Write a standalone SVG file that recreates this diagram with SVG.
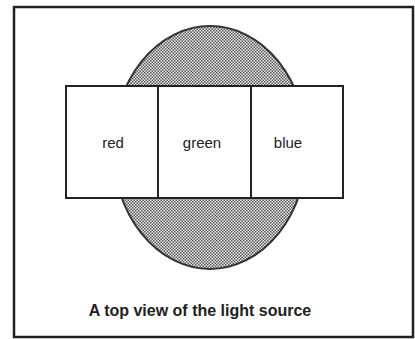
<svg xmlns="http://www.w3.org/2000/svg" width="415" height="339" viewBox="0 0 415 339">
<defs>
<pattern id="dots" width="3" height="3" patternUnits="userSpaceOnUse">
<rect width="3" height="3" fill="#ececec"/>
<rect x="0" y="0" width="1.5" height="1.5" fill="#555"/>
<rect x="1.5" y="1.5" width="1.5" height="1.5" fill="#555"/>
</pattern>
</defs>
<style>
.box{fill:#fff;stroke:#222;stroke-width:2}
.lbl{font-family:"Liberation Sans",Arial,sans-serif;font-size:15px;fill:#222;text-anchor:middle}
.cap{font-family:"Liberation Sans",Arial,sans-serif;font-size:16px;font-weight:bold;fill:#222;text-anchor:middle}
</style>
<rect width="415" height="339" fill="#fff"/>
<rect id="frame" x="14" y="7" width="399" height="330" fill="#fff" stroke="#222" stroke-width="2.5"/>
<g id="source">
<ellipse cx="210" cy="147.5" rx="97" ry="121.5" fill="url(#dots)" stroke="#333" stroke-width="2"/>
</g>
<g id="connectors"></g>
<g id="red">
<rect class="box" x="66" y="86" width="92" height="112"/>
<text class="lbl" x="113" y="148">red</text>
</g>
<g id="green">
<rect class="box" x="158" y="86" width="93" height="112"/>
<text class="lbl" x="202" y="148">green</text>
</g>
<g id="blue">
<rect class="box" x="251" y="86" width="92" height="112"/>
<text class="lbl" x="288" y="148">blue</text>
</g>
<text id="caption" class="cap" x="200" y="316">A top view of the light source</text>
</svg>
